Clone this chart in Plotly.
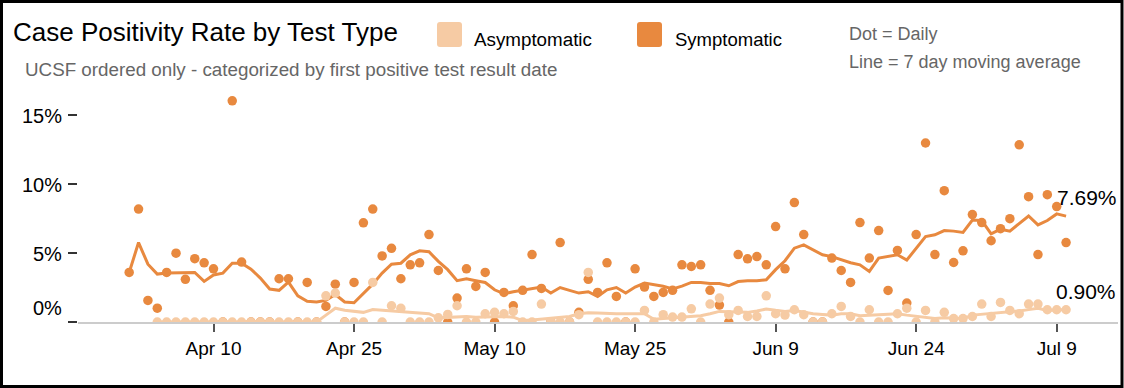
import pandas as pd
import plotly.graph_objects as go

# ---------------- data ----------------
dates = pd.date_range("2020-04-01", "2020-07-10", freq="D")

sym_daily = [
    # Apr 1 - Apr 30
    3.6, 8.2, 1.57, 1.0, 3.6, 5.0, 3.1, 4.6, 4.3, 3.86,
    0.0, 16.06, 4.35, 0.0, 0.0, 0.0, 3.14, 3.14, 0.0, 2.87,
    0.0, 1.13, 2.75, 0.0, 2.87, 7.2, 8.2, 4.8, 5.35, 3.14,
    # May 1 - May 31
    4.15, 4.3, 6.35, 3.74, 0.0, 1.74, 3.86, 2.58, 3.6, 0.0,
    2.15, 1.18, 2.3, 4.9, 2.44, 0.0, 5.77, 0.0, 0.7, 3.1,
    2.15, 4.3, 1.86, 0.0, 3.86, 2.54, 1.86, 2.15, 2.3, 4.15,
    4.03,
    # Jun 1 - Jun 30
    4.15, 2.3, 1.23, 0.0, 4.9, 4.59, 4.75, 4.15, 6.93, 3.86,
    8.67, 6.35, 0.0, 0.0, 4.64, 3.74, 2.87, 7.22, 4.64, 6.64,
    2.29, 5.2, 1.38, 6.35, 13.0, 4.9, 9.54, 4.32, 5.17, 7.8,
    # Jul 1 - Jul 10
    7.22, 5.9, 6.78, 7.5, 12.87, 9.1, 4.9, 9.25, 8.38, 5.77,
]

sym_ma = [
    # Apr
    3.6, 5.77, 4.2, 3.48, 3.55, 3.55, 3.6, 3.6, 2.95, 3.42,
    3.55, 4.27, 4.27, 3.84, 3.19, 2.39, 2.3, 2.9, 1.9, 1.5,
    1.45, 1.57, 2.0, 1.45, 1.4, 2.1, 2.75, 3.55, 4.2, 4.27,
    # May
    4.88, 5.17, 5.1, 4.4, 3.8, 3.0, 3.14, 3.0, 2.87, 2.34,
    2.05, 2.2, 2.3, 2.4, 2.54, 2.1, 2.5, 2.3, 2.1, 2.2,
    1.86, 2.34, 2.5, 2.1, 2.54, 2.83, 2.7, 2.6, 2.4, 2.6,
    2.87,
    # Jun
    2.87, 2.8, 2.8, 2.63, 2.94, 3.0, 3.0, 3.06, 3.8, 4.45,
    5.36, 5.6, 5.24, 4.88, 4.75, 4.5, 4.3, 4.15, 3.67, 4.64,
    4.75, 4.88, 4.5, 5.36, 6.2, 6.33, 6.64, 6.6, 6.5, 7.4,
    # Jul
    7.37, 6.4, 6.74, 6.6, 7.17, 7.7, 7.05, 7.37, 7.85, 7.69,
]

asym_daily = [
    # Apr
    None, None, None, 0, 0, 0, 0, 0, 0, 0,
    0, 0, 0, 0, 0, 0, 0, 0, 0, 0,
    0, 1.9, 2.1, 0, 0, 0, 2.87, 0, 1.18, 0.99,
    # May
    0, 0, 0, 0.3, 0.55, 1.18, 0, 0, 0.6, 0.7,
    0.6, 0.77, 0, 0, 1.3, 0, 0, 0, 0.53, 3.6,
    0, 0, 0, 0, 0, 0.84, 0, 0.53, 0.36, 0.36,
    0.96,
    # Jun
    0, 1.3, 1.74, 0.53, 0.84, 0.4, 0.4, 1.9, 0.6, 0.5,
    0.89, 0.53, 0, 0, 0.6, 1.13, 0.4, 0, 0.89, 0,
    0, 0.6, 1.0, 0, 0.84, 0, 0.7, 0.25, 0.25, 0.4,
    # Jul
    1.3, 0.4, 1.42, 0.84, 0.6, 1.3, 1.3, 0.89, 0.89, 0.89,
]

asym_ma = [
    # Apr
    None, None, None, 0, 0, 0, 0, 0, 0, 0,
    0, 0, 0, 0, 0, 0, 0, 0, 0, 0,
    0, 0.5, 1.0, 0.85, 0.75, 0.7, 0.9, 0.85, 0.8, 0.78,
    # May
    0.75, 0.7, 0.6, 0.3, 0.35, 0.4, 0.4, 0.35, 0.36, 0.4,
    0.4, 0.35, 0.1, 0.15, 0.2, 0.3, 0.35, 0.4, 0.6, 0.68,
    0.65, 0.6, 0.6, 0.6, 0.6, 0.6, 0.2, 0.25, 0.3, 0.35,
    0.4,
    # Jun
    0.45, 0.6, 0.77, 0.75, 0.7, 0.7, 0.8, 0.95, 0.85, 0.77,
    0.84, 0.7, 0.6, 0.55, 0.5, 0.6, 0.6, 0.45, 0.5, 0.5,
    0.55, 0.6, 0.5, 0.4, 0.35, 0.25, 0.3, 0.28, 0.25, 0.5,
    # Jul
    0.55, 0.6, 0.65, 0.7, 0.8, 0.9, 1.0, 0.84, 0.87, 0.90,
]

x_tick_vals = ["2020-04-10", "2020-04-25", "2020-05-10", "2020-05-25",
               "2020-06-09", "2020-06-24", "2020-07-09"]
x_tick_text = ["Apr 10", "Apr 25", "May 10", "May 25", "Jun 9", "Jun 24", "Jul 9"]
y_tick_vals = [0, 5, 10, 15]
y_tick_text = ["0%", "5%", "10%", "15%"]

series_names = ["Asymptomatic", "Symptomatic"]
title_text = "Case Positivity Rate by Test Type"
subtitle_text = "UCSF ordered only - categorized by first positive test result date"
note_lines = ["Dot = Daily", "Line = 7 day moving average"]

# ---------------- style / layout ----------------
W, H = 1124, 388
PL, PR, PT, PB = 78, 1118, 95, 322        # plot area in pixels
DARK = "#E8893F"
LIGHT = "#F6CBA4"
FONT = "Liberation Sans, Arial, Helvetica, sans-serif"
PX_PER_PCT = 13.77


def xp(px):
    return (px - PL) / (PR - PL)


def yp(py):
    return (PB - py) / (PB - PT)


px_per_day = (1056.7 - 213.5) / 90.0
x_start = pd.Timestamp("2020-04-10") - pd.Timedelta(days=(213.5 - PL) / px_per_day)
x_end = pd.Timestamp("2020-07-09") + pd.Timedelta(days=(PR - 1056.7) / px_per_day)
y_top = (PB - PT) / PX_PER_PCT

fig = go.Figure()

fig.add_trace(go.Scatter(x=dates, y=sym_ma, mode="lines", name="Symptomatic MA",
                         line=dict(color=DARK, width=3), hoverinfo="skip"))
fig.add_trace(go.Scatter(x=dates, y=sym_daily, mode="markers", name="Symptomatic",
                         marker=dict(color=DARK, size=9.5)))
fig.add_trace(go.Scatter(x=dates, y=asym_ma, mode="lines", name="Asymptomatic MA",
                         line=dict(color=LIGHT, width=3), hoverinfo="skip"))
fig.add_trace(go.Scatter(x=dates, y=asym_daily, mode="markers", name="Asymptomatic",
                         marker=dict(color=LIGHT, size=9.5)))


def rounded_rect(x0, y0, x1, y1, r):
    pts = [
        f"M {xp(x0 + r)} {yp(y0)}",
        f"L {xp(x1 - r)} {yp(y0)}",
        f"Q {xp(x1)} {yp(y0)} {xp(x1)} {yp(y0 + r)}",
        f"L {xp(x1)} {yp(y1 - r)}",
        f"Q {xp(x1)} {yp(y1)} {xp(x1 - r)} {yp(y1)}",
        f"L {xp(x0 + r)} {yp(y1)}",
        f"Q {xp(x0)} {yp(y1)} {xp(x0)} {yp(y1 - r)}",
        f"L {xp(x0)} {yp(y0 + r)}",
        f"Q {xp(x0)} {yp(y0)} {xp(x0 + r)} {yp(y0)}",
        "Z",
    ]
    return " ".join(pts)


shapes = [
    # outer black frame
    dict(type="rect", xref="paper", yref="paper",
         x0=xp(1.5), x1=xp(W - 2), y0=yp(1.5), y1=yp(H - 1.5),
         line=dict(color="black", width=3), fillcolor="rgba(0,0,0,0)", layer="above"),
    # legend swatches
    dict(type="path", xref="paper", yref="paper", path=rounded_rect(437, 22, 462, 47, 3),
         fillcolor=LIGHT, line=dict(width=0)),
    dict(type="path", xref="paper", yref="paper", path=rounded_rect(637, 22, 662, 47, 3),
         fillcolor=DARK, line=dict(width=0)),
]

annotations = [
    dict(text=title_text, x=xp(11), y=yp(32), xref="paper", yref="paper",
         xanchor="left", yanchor="middle", showarrow=False,
         font=dict(family=FONT, size=26, color="#000")),
    dict(text=subtitle_text, x=xp(23), y=yp(69), xref="paper", yref="paper",
         xanchor="left", yanchor="middle", showarrow=False,
         font=dict(family=FONT, size=18.8, color="#666")),
    dict(text=series_names[0], x=xp(472), y=yp(39), xref="paper", yref="paper",
         xanchor="left", yanchor="middle", showarrow=False,
         font=dict(family=FONT, size=18.8, color="#000")),
    dict(text=series_names[1], x=xp(673), y=yp(39), xref="paper", yref="paper",
         xanchor="left", yanchor="middle", showarrow=False,
         font=dict(family=FONT, size=18.5, color="#000")),
    dict(text=note_lines[0], x=xp(847), y=yp(34), xref="paper", yref="paper",
         xanchor="left", yanchor="middle", showarrow=False,
         font=dict(family=FONT, size=18, color="#666")),
    dict(text=note_lines[1], x=xp(847), y=yp(62), xref="paper", yref="paper",
         xanchor="left", yanchor="middle", showarrow=False,
         font=dict(family=FONT, size=18, color="#666")),
    # end labels
    dict(text=f"{sym_ma[-1]:.2f}%", x=dates[-1], y=sym_ma[-1], xref="x", yref="y",
         xanchor="left", yanchor="middle", xshift=-11, yshift=19, showarrow=False,
         font=dict(family=FONT, size=21, color="#000")),
    dict(text=f"{asym_ma[-1]:.2f}%", x=dates[-1], y=asym_ma[-1], xref="x", yref="y",
         xanchor="left", yanchor="middle", xshift=-12, yshift=18, showarrow=False,
         font=dict(family=FONT, size=21, color="#000")),
]

# y tick labels (0% sits above its tick in the reference)
for v, t in zip(y_tick_vals, y_tick_text):
    annotations.append(dict(text=t, x=0, y=v, xref="paper", yref="y",
                            xanchor="right", yanchor="middle",
                            xshift=-14, yshift=(14 if v == 0 else -1), showarrow=False,
                            font=dict(family=FONT, size=20, color="#000")))

fig.update_layout(
    width=W, height=H,
    margin=dict(l=PL, r=W - PR, t=PT, b=H - PB, pad=0),
    paper_bgcolor="white", plot_bgcolor="white",
    showlegend=False,
    font=dict(family=FONT, size=18, color="#000"),
    shapes=shapes,
    annotations=annotations,
    xaxis=dict(
        type="date", range=[x_start, x_end],
        tickvals=x_tick_vals, ticktext=x_tick_text,
        ticks="outside", ticklen=8, tickwidth=2, tickcolor="#555",
        showline=True, linecolor="#cccccc", linewidth=1.5,
        showgrid=False, zeroline=False,
        tickfont=dict(family=FONT, size=19, color="#000"),
        ticklabelstandoff=0,
        layer="below traces",
    ),
    yaxis=dict(
        range=[0, y_top],
        tickvals=y_tick_vals, showticklabels=False,
        ticks="outside", ticklen=9, tickwidth=1.5, tickcolor="#333",
        showline=False, showgrid=False, zeroline=False,
    ),
)

fig.write_html("out.html", config={"displayModeBar": False},
               post_script="document.body.style.margin='0';document.body.style.overflow='hidden';")
